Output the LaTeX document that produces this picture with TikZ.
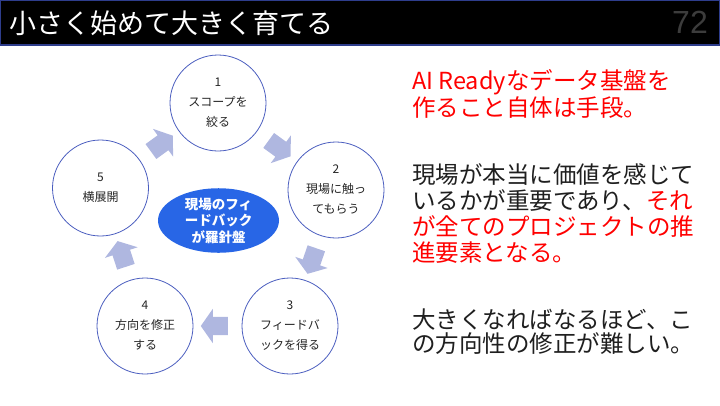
\documentclass[tikz,border=0pt]{standalone}
\usepackage{fontspec}
\setmainfont{Noto Sans CJK JP}
\newfontfamily\pagenumfont{Liberation Sans}
\usepackage{xcolor}
\usepackage{tikz}
\usetikzlibrary{shapes.geometric,shapes.arrows,calc,positioning}

\definecolor{ringBlue}{HTML}{4A5DBF}
\definecolor{hubBlue}{HTML}{2866E6}
\definecolor{arrowLav}{HTML}{AFB7E0}
\definecolor{barNavy}{HTML}{2E3D8C}
\definecolor{numGray}{HTML}{3C3C3C}

\begin{document}
\begin{tikzpicture}[
    x=1pt, y=-1pt,
    stageNode/.style={
        circle, draw=ringBlue, line width=0.8pt, fill=white,
        minimum size=96pt, inner sep=0pt, align=center, text=black!85,
        font=\fontsize{12}{20}\selectfont
    },
    hubNode/.style={
        ellipse, fill=hubBlue, minimum width=121pt, minimum height=63pt,
        inner sep=0pt, align=center, text=white,
        font=\bfseries\fontsize{13.5}{16.5}\selectfont
    },
    loopArrow/.style={
        single arrow, fill=arrowLav, draw=none, minimum height=27pt,
        inner xsep=0pt, inner ysep=9pt, single arrow head extend=8pt,
        single arrow tip angle=110
    },
    noteText/.style={
        anchor=base west, inner sep=0pt, align=left, text=black!88,
        font=\fontsize{23.5}{26}\selectfont
    }
]
\useasboundingbox (0,0) rectangle (720,405);

% Title bar
\draw[fill=black, draw=barNavy, line width=1.2pt] (0.6,0.6) rectangle (719.4,45);
\node[anchor=west, inner sep=0pt, text=white, font=\fontsize{27}{30}\selectfont] (title) at (9,23) {小さく始めて大きく育てる};
\node[anchor=east, inner sep=0pt, text=numGray, font=\pagenumfont\fontsize{32}{34}\selectfont] (pagenum) at (708,22) {72};

% Cycle
\node[stageNode] (s1) at (218,103) {1\\スコープを\\絞る};
\node[stageNode] (s2) at (336,190) {2\\現場に触っ\\てもらう};
\node[stageNode] (s3) at (290,326) {3\\フィードバ\\ックを得る};
\node[stageNode] (s4) at (145,326) {4\\方向を修正\\する};
\node[stageNode] (s5) at (100.5,188) {5\\横展開};

\node[hubNode] (hub) at (218.5,220.5) {現場のフィ\\ードバック\\が羅針盤};

% Block arrows between stages
\foreach \from/\to/\ang in {s5/s1/36, s1/s2/-36, s2/s3/-109, s3/s4/180, s4/s5/108}
    \node[loopArrow, rotate=\ang] (arr-\from) at ($(\from)!0.5!(\to)$) {};

% Right: messages (anchored at the last baseline)
\node[noteText, text=red, font=\fontsize{23.5}{25}\selectfont] (msgA) at (412,116) {AI Readyなデータ基盤を\\作ること自体は手段。};
\node[noteText] (msgB) at (412,261) {現場が本当に価値を感じて\\いるかが重要であり、\textcolor{red}{それ}\\\textcolor{red}{が全てのプロジェクトの推}\\\textcolor{red}{進要素となる。}};
\node[noteText, font=\fontsize{23.5}{23.5}\selectfont] (msgC) at (412,352) {大きくなればなるほど、こ\\の方向性の修正が難しい。};

\end{tikzpicture}
\end{document}
